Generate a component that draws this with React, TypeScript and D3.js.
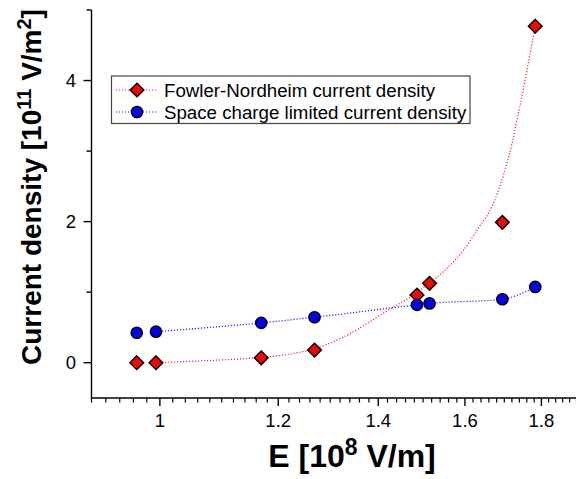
import React from 'react';
import * as d3 from 'd3';

// Data
const fieldE = [0.965, 0.994, 1.169, 1.269, 1.486, 1.515, 1.695, 1.783];
const fnDensity = [0, 0, 0.07, 0.18, 0.96, 1.125, 1.99, 4.77];
const sclDensity = [0.425, 0.44, 0.565, 0.645, 0.82, 0.84, 0.9, 1.075];

// Fit curve of the Fowler-Nordheim density
const fnFitE = [0.994, 1.05, 1.1, 1.169, 1.22, 1.269, 1.32, 1.37, 1.42, 1.46, 1.515, 1.57, 1.6, 1.63, 1.67, 1.7, 1.72, 1.735, 1.75, 1.76, 1.775, 1.783];
const fnFitJ = [0, 0.02, 0.04, 0.075, 0.12, 0.2, 0.34, 0.53, 0.74, 0.89, 1.13, 1.42, 1.62, 1.88, 2.24, 2.7, 3.1, 3.48, 3.86, 4.14, 4.55, 4.77];

const xMajorTicks = [1, 1.2, 1.4, 1.6, 1.8];
const xTickLabels = ['1', '1.2', '1.4', '1.6', '1.8'];
const yMajorTicks = [0, 2, 4];
const yTickLabels = ['0', '2', '4'];
const yMinorTicks = [1, 3, 5];
const legendLabels = ['Fowler-Nordheim current density', 'Space charge limited current density'];

const W = 576;
const H = 479;
const FONT = "Arial, 'Liberation Sans', sans-serif";

export default function App() {
  const x = d3.scaleLog().domain([0.9, 1.9]).range([91.5, 576.5]);
  const y = d3.scaleLinear().domain([-0.5, 5]).range([398, 10]);

  const xMinor = d3.range(0.9, 1.9001, 0.02).filter(
    (v) => !xMajorTicks.some((m) => Math.abs(m - v) < 1e-6)
  );

  const fnFit = fnFitE.map((e, i) => [e, fnFitJ[i]] as [number, number]);
  const sclLinePts = fieldE.slice(1).map((e, i) => [e, sclDensity[i + 1]] as [number, number]);

  const line = d3
    .line<[number, number]>()
    .x((d) => x(d[0]))
    .y((d) => y(d[1]))
    .curve(d3.curveMonotoneX);

  const diamond = (cx: number, cy: number, r: number) =>
    `M${cx},${cy - r}L${cx + r},${cy}L${cx},${cy + r}L${cx - r},${cy}Z`;

  const axisY0 = y(-0.5);
  const axisX0 = x(0.9);

  const legX = 111.5;
  const legY = 76;
  const rowY = [90, 112];

  return (
    <svg
      width={W}
      height={H}
      style={{ position: 'absolute', left: 0, top: 0, background: '#fff' }}
      fontFamily={FONT}
    >
      <rect x={0} y={0} width={W} height={H} fill="#fff" />

      {/* fit / connecting lines */}
      <path d={line(fnFit) || ''} fill="none" stroke="#ff2020" strokeWidth={1.2} strokeDasharray="1.2 1.8" />
      <path d={line(sclLinePts) || ''} fill="none" stroke="#2020ff" strokeWidth={1.2} strokeDasharray="1.2 1.8" />

      {/* FN markers */}
      {fieldE.map((e, i) => (
        <path key={'fn' + i} d={diamond(x(e), y(fnDensity[i]), 6.8)} fill="#ff0000" stroke="#000" strokeWidth={1.5} />
      ))}
      {/* SCL markers */}
      {fieldE.map((e, i) => (
        <circle key={'scl' + i} cx={x(e)} cy={y(sclDensity[i])} r={5.6} fill="#0000ff" stroke="#000" strokeWidth={1.5} />
      ))}

      {/* Axes */}
      <line x1={axisX0} x2={axisX0} y1={y(5)} y2={axisY0} stroke="#000" strokeWidth={1.4} />
      <line x1={axisX0 - 0.7} x2={576} y1={axisY0} y2={axisY0} stroke="#000" strokeWidth={1.4} />

      {yMajorTicks.map((t, i) => (
        <g key={'ym' + t}>
          <line x1={axisX0 - 8} x2={axisX0} y1={y(t)} y2={y(t)} stroke="#000" strokeWidth={1.4} />
          <text x={76} y={y(t)} dy="0.35em" textAnchor="end" fontSize={18.5}>
            {yTickLabels[i]}
          </text>
        </g>
      ))}
      {yMinorTicks.map((t) => (
        <line key={'yn' + t} x1={axisX0 - 5} x2={axisX0} y1={y(t)} y2={y(t)} stroke="#000" strokeWidth={1.4} />
      ))}

      {xMajorTicks.map((t, i) => (
        <g key={'xm' + t}>
          <line x1={x(t)} x2={x(t)} y1={axisY0} y2={axisY0 + 8} stroke="#000" strokeWidth={1.4} />
          <text x={x(t)} y={427} textAnchor="middle" fontSize={18.5}>
            {xTickLabels[i]}
          </text>
        </g>
      ))}
      {xMinor.map((t, i) => (
        <line key={'xn' + i} x1={x(t)} x2={x(t)} y1={axisY0} y2={axisY0 + 4.5} stroke="#000" strokeWidth={1.2} />
      ))}

      {/* Axis titles */}
      <text x={352} y={467} textAnchor="middle" fontSize={32} fontWeight="bold">
        E [10<tspan fontSize={23} dy={-12}>8</tspan>
        <tspan dy={12}> V/m]</tspan>
      </text>
      <text
        transform={`translate(41,187) rotate(-90)`}
        textAnchor="middle"
        fontSize={28}
        fontWeight="bold"
      >
        Current density [10<tspan fontSize={20} dy={-10}>11</tspan>
        <tspan dy={10}> V/m</tspan>
        <tspan fontSize={20} dy={-10}>2</tspan>
        <tspan dy={10}>]</tspan>
      </text>

      {/* Legend */}
      <rect x={legX} y={legY} width={358.5} height={47.5} fill="#fff" stroke="#444" strokeWidth={1.2} />
      <line x1={116} x2={158} y1={rowY[0]} y2={rowY[0]} stroke="#ff2020" strokeWidth={1.2} strokeDasharray="1.2 1.8" />
      <path d={diamond(137, rowY[0], 6.8)} fill="#ff0000" stroke="#000" strokeWidth={1.5} />
      <line x1={116} x2={158} y1={rowY[1]} y2={rowY[1]} stroke="#2020ff" strokeWidth={1.2} strokeDasharray="1.2 1.8" />
      <circle cx={137} cy={rowY[1]} r={5.6} fill="#0000ff" stroke="#000" strokeWidth={1.5} />
      {legendLabels.map((l, i) => (
        <text key={l} x={164} y={rowY[i]} dy="0.36em" fontSize={18.7}>
          {l}
        </text>
      ))}
    </svg>
  );
}
